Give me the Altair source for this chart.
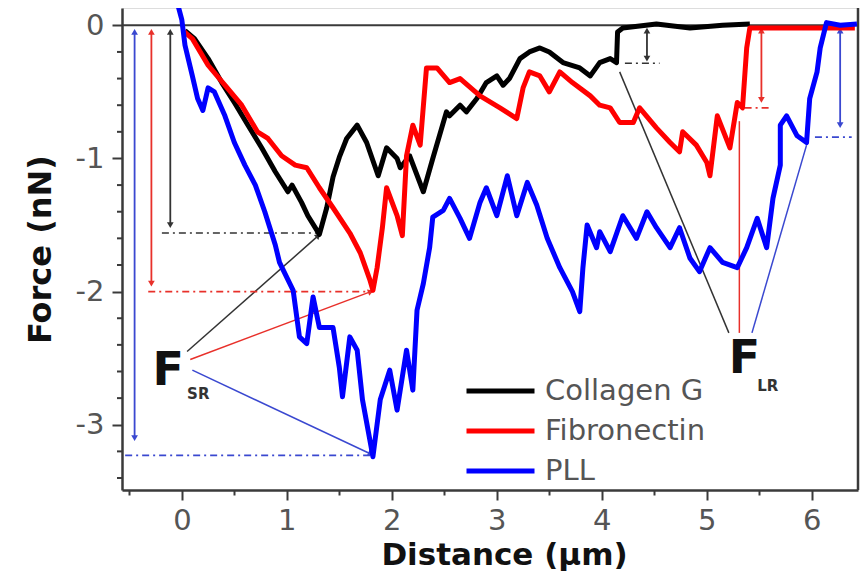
import math
import altair as alt
import pandas as pd

# ---------------- data ----------------
series_names = ["Collagen G", "Fibronectin", "PLL"]
series_colors = ["#000000", "#ff0000", "#0000ff"]

collagen_x = [0.03, 0.12, 0.25, 0.38, 0.50, 0.63, 0.76, 0.89, 1.01, 1.05, 1.14, 1.20, 1.31,
              1.38, 1.44, 1.50, 1.57, 1.67, 1.76, 1.87, 1.95, 2.05, 2.08, 2.17, 2.30, 2.39,
              2.52, 2.55, 2.65, 2.71, 2.81, 2.90, 3.00, 3.06, 3.12, 3.22, 3.31, 3.41, 3.50,
              3.63, 3.79, 3.89, 3.98, 4.08, 4.14, 4.15, 4.20, 4.52, 4.84, 5.15, 5.41]
collagen_y = [-0.04, -0.10, -0.25, -0.43, -0.58, -0.75, -0.92, -1.10, -1.25, -1.20, -1.33, -1.43, -1.57,
              -1.37, -1.14, -0.99, -0.85, -0.75, -0.88, -1.13, -0.92, -1.00, -1.07, -0.98, -1.25, -1.00,
              -0.65, -0.68, -0.60, -0.65, -0.55, -0.43, -0.38, -0.45, -0.40, -0.25, -0.20, -0.17, -0.20,
              -0.28, -0.32, -0.38, -0.28, -0.25, -0.28, -0.05, -0.02, 0.01, -0.02, 0.00, 0.01]

fibronectin_x = [0.01, 0.10, 0.25, 0.41, 0.57, 0.72, 0.82, 0.95, 1.08, 1.19, 1.31, 1.44, 1.60,
                 1.70, 1.79, 1.82, 1.86, 1.91, 1.95, 2.05, 2.10, 2.14, 2.20, 2.27, 2.33, 2.43,
                 2.55, 2.65, 2.84, 3.03, 3.19, 3.25, 3.31, 3.41, 3.50, 3.60, 3.72, 3.89, 3.98,
                 4.08, 4.17, 4.30, 4.36, 4.52, 4.65, 4.74, 4.77, 4.90, 5.00, 5.03, 5.10, 5.22,
                 5.29, 5.34, 5.38, 5.41, 5.79, 6.17, 6.41]
fibronectin_y = [-0.04, -0.10, -0.30, -0.45, -0.60, -0.80, -0.85, -0.98, -1.05, -1.07, -1.22, -1.37, -1.56,
                 -1.71, -1.91, -1.99, -1.82, -1.52, -1.22, -1.43, -1.58, -0.98, -0.75, -0.90, -0.32, -0.32,
                 -0.43, -0.40, -0.53, -0.62, -0.70, -0.47, -0.35, -0.38, -0.50, -0.35, -0.43, -0.53, -0.60,
                 -0.62, -0.73, -0.73, -0.62, -0.77, -0.88, -0.95, -0.80, -0.90, -1.03, -1.13, -0.68, -0.92,
                 -0.58, -0.62, -0.17, -0.02, -0.02, -0.02, -0.02]

pll_x = [-0.04, 0.00, 0.03, 0.10, 0.15, 0.20, 0.25, 0.31, 0.41, 0.50, 0.60, 0.70, 0.79, 0.89,
         0.93, 1.01, 1.06, 1.12, 1.19, 1.25, 1.31, 1.44, 1.50, 1.53, 1.60, 1.67, 1.72, 1.82,
         1.89, 1.98, 2.05, 2.14, 2.20, 2.24, 2.30, 2.36, 2.39, 2.49, 2.55, 2.65, 2.74, 2.84,
         2.90, 3.00, 3.10, 3.19, 3.29, 3.38, 3.48, 3.60, 3.72, 3.79, 3.82, 3.86, 3.95, 3.98,
         4.08, 4.20, 4.33, 4.43, 4.52, 4.65, 4.74, 4.84, 4.93, 5.03, 5.15, 5.29, 5.38, 5.48,
         5.57, 5.63, 5.70, 5.70, 5.76, 5.86, 5.95, 5.98, 6.05, 6.08, 6.14, 6.27, 6.43]
pll_y = [0.16, 0.04, -0.15, -0.38, -0.55, -0.64, -0.47, -0.50, -0.68, -0.88, -1.05, -1.20, -1.40, -1.65,
         -1.78, -1.91, -1.99, -2.34, -2.39, -2.04, -2.27, -2.27, -2.57, -2.79, -2.34, -2.44, -2.81, -3.24,
         -2.81, -2.59, -2.89, -2.44, -2.74, -2.14, -1.94, -1.67, -1.44, -1.39, -1.30, -1.45, -1.60, -1.33,
         -1.22, -1.43, -1.13, -1.43, -1.18, -1.35, -1.60, -1.82, -2.00, -2.15, -1.82, -1.50, -1.67, -1.55,
         -1.70, -1.43, -1.60, -1.40, -1.52, -1.67, -1.52, -1.75, -1.85, -1.67, -1.78, -1.82, -1.67, -1.45,
         -1.67, -1.30, -1.05, -0.75, -0.68, -0.83, -0.88, -0.55, -0.35, -0.17, 0.02, 0.00, 0.01]

# annotation values (black, red, blue)
ann_colors = ["#333333", "#e8302a", "#3a48d0"]
sr_arrow_x = [-0.11, -0.29, -0.45]
sr_arrow_top = [-0.05, -0.05, -0.05]
sr_arrow_bottom = [-1.50, -1.94, -3.10]
sr_level = [-1.56, -2.00, -3.23]
sr_level_x1 = [-0.19, -0.32, -0.54]
sr_level_x2 = [1.31, 1.82, 1.82]
sr_from_x = [0.05, 0.08, 0.10]
sr_from_y = [-2.45, -2.51, -2.59]
sr_to_x = [1.30, 1.80, 1.80]
sr_to_y = [-1.58, -2.00, -3.22]

lr_arrow_x = [4.43, 5.52, 6.27]
lr_arrow_top = [-0.04, -0.04, -0.04]
lr_arrow_bottom = [-0.25, -0.56, -0.75]
lr_level = [-0.285, -0.62, -0.84]
lr_level_x1 = [4.22, 5.36, 6.03]
lr_level_x2 = [4.55, 5.60, 6.38]
lr_from_x = [5.21, 5.31, 5.43]
lr_from_y = [-2.31, -2.31, -2.31]
lr_to_x = [4.17, 5.31, 5.95]
lr_to_y = [-0.35, -0.72, -0.90]

label_main = ["F", "F"]
label_sub = ["SR", "LR"]
label_x = [-0.28, 5.21]
label_y = [-2.70, -2.61]
sub_x = [0.05, 5.48]
sub_y = [-2.81, -2.75]

x_ticks = [round(-0.5 + 0.5 * i, 1) for i in range(14)]
y_major = [0, -1, -2, -3]
y_minor = [round(-0.2 * i, 1) for i in range(18) if i % 5 != 0]

X_MIN, X_MAX = -0.57, 6.44
Y_MIN, Y_MAX = -3.49, 0.13
W, H = 736, 482

# ---------------- build tables ----------------
rows = []
for name, xs, ys in [("Collagen G", collagen_x, collagen_y),
                     ("Fibronectin", fibronectin_x, fibronectin_y),
                     ("PLL", pll_x, pll_y)]:
    for i, (x, y) in enumerate(zip(xs, ys)):
        rows.append({"series": name, "x": x, "y": y, "i": i})
df = pd.DataFrame(rows)

xscale = alt.Scale(domain=[X_MIN, X_MAX], nice=False, zero=False)
yscale = alt.Scale(domain=[Y_MIN, Y_MAX], nice=False, zero=False)

FONT = "DejaVu Sans"
AX = "#3a3a3a"

x_axis = alt.Axis(
    values=x_ticks, title="Distance (µm)", grid=False,
    labelExpr="datum.value % 1 ? '' : '' + datum.value",
    tickSize={"condition": {"test": "datum.value % 1 != 0", "value": 5}, "value": 10},
    labelFont=FONT, labelFontSize=29, labelColor="#555555", labelPadding=6,
    titleFont=FONT, titleFontSize=31, titleFontWeight="bold", titleColor="#111111",
    titlePadding=5, titleX=382, domainColor=AX, domainWidth=2.5, tickColor=AX, tickWidth=2,
    labelFlush=False, labelOverlap=False,
)
y_axis = alt.Axis(
    values=y_major, title="Force (nN)", grid=False,
    labelExpr="(datum.value < -0.01 ? '-' : '') + abs(round(datum.value))",
    tickSize=10,
    labelFont=FONT, labelFontSize=29, labelColor="#555555", labelPadding=8,
    titleFont=FONT, titleFontSize=32, titleFontWeight="bold", titleColor="#111111",
    titlePadding=18, domainColor=AX, domainWidth=2.5, tickColor=AX, tickWidth=2,
    labelFlush=False, labelOverlap=False,
)

lines = alt.Chart(df).mark_line(strokeWidth=5, clip=True, strokeJoin="round").encode(
    x=alt.X("x:Q", scale=xscale, axis=x_axis),
    y=alt.Y("y:Q", scale=yscale, axis=y_axis),
    color=alt.Color("series:N",
                    scale=alt.Scale(domain=series_names, range=series_colors),
                    sort=series_names,
                    legend=alt.Legend(title=None, orient="none", legendX=342, legendY=368,
                                      symbolType="stroke", symbolSize=4624, symbolStrokeWidth=5,
                                      clipHeight=30, rowPadding=10, labelOffset=8, labelLimit=400,
                                      labelFont=FONT, labelFontSize=29, labelColor="#555555",
                                      padding=0)),
    order="i:Q",
)

zero_line = alt.Chart(pd.DataFrame({"y": [0.0]})).mark_rule(color=AX, strokeWidth=2).encode(
    y=alt.Y("y:Q", scale=yscale))
right_edge = alt.Chart(pd.DataFrame({"x": [X_MAX]})).mark_rule(color=AX, strokeWidth=2.5).encode(
    x=alt.X("x:Q", scale=xscale))
minor_y = alt.Chart(pd.DataFrame({"y": y_minor})).mark_rule(color=AX, strokeWidth=2).encode(
    y=alt.Y("y:Q", scale=yscale), x=alt.value(-5), x2=alt.value(0))

ann_layers = []
px_x = W / (X_MAX - X_MIN)
px_y = H / (Y_MAX - Y_MIN)
for k in range(3):
    c = ann_colors[k]
    va = pd.DataFrame({"x": [sr_arrow_x[k], lr_arrow_x[k]],
                       "y1": [sr_arrow_top[k], lr_arrow_top[k]],
                       "y2": [sr_arrow_bottom[k], lr_arrow_bottom[k]]})
    ann_layers.append(alt.Chart(va).mark_rule(color=c, strokeWidth=1.8).encode(
        x=alt.X("x:Q", scale=xscale), y=alt.Y("y1:Q", scale=yscale), y2="y2:Q"))
    ann_layers.append(alt.Chart(va).mark_point(shape="triangle-up", filled=True, color=c, size=45, opacity=1).encode(
        x=alt.X("x:Q", scale=xscale), y=alt.Y("y1:Q", scale=yscale)))
    ann_layers.append(alt.Chart(va).mark_point(shape="triangle-down", filled=True, color=c, size=45, opacity=1).encode(
        x=alt.X("x:Q", scale=xscale), y=alt.Y("y2:Q", scale=yscale)))
    lv = pd.DataFrame({"x1": [sr_level_x1[k], lr_level_x1[k]],
                       "x2": [sr_level_x2[k], lr_level_x2[k]],
                       "y": [sr_level[k], lr_level[k]]})
    ann_layers.append(alt.Chart(lv).mark_rule(color=c, strokeWidth=1.6, strokeDash=[7, 4, 2, 4]).encode(
        x=alt.X("x1:Q", scale=xscale), x2="x2:Q", y=alt.Y("y:Q", scale=yscale)))
    pl = pd.DataFrame({"x1": [sr_from_x[k], lr_from_x[k]], "y1": [sr_from_y[k], lr_from_y[k]],
                       "x2": [sr_to_x[k], lr_to_x[k]], "y2": [sr_to_y[k], lr_to_y[k]]})
    ann_layers.append(alt.Chart(pl).mark_rule(color=c, strokeWidth=1.5).encode(
        x=alt.X("x1:Q", scale=xscale), y=alt.Y("y1:Q", scale=yscale), x2="x2:Q", y2="y2:Q"))
    dxp = (sr_to_x[k] - sr_from_x[k]) * px_x
    dyp = -(sr_to_y[k] - sr_from_y[k]) * px_y
    ang = (math.degrees(math.atan2(dyp, dxp)) + 360) % 360
    ah = pd.DataFrame({"x": [sr_to_x[k]], "y": [sr_to_y[k]]})
    ann_layers.append(alt.Chart(ah).mark_point(shape="triangle-right", filled=True, color=c, size=45,
                                               opacity=1, angle=ang).encode(
        x=alt.X("x:Q", scale=xscale), y=alt.Y("y:Q", scale=yscale)))

lab = pd.DataFrame({"t": label_main, "x": label_x, "y": label_y})
sub = pd.DataFrame({"t": label_sub, "x": sub_x, "y": sub_y})
texts = [
    alt.Chart(lab).mark_text(font=FONT, fontSize=46, fontWeight="bold", color="#111111",
                             align="left", baseline="alphabetic").encode(
        x=alt.X("x:Q", scale=xscale), y=alt.Y("y:Q", scale=yscale), text="t:N"),
    alt.Chart(sub).mark_text(font=FONT, fontSize=15, fontWeight="bold", color="#333333",
                             align="left", baseline="alphabetic").encode(
        x=alt.X("x:Q", scale=xscale), y=alt.Y("y:Q", scale=yscale), text="t:N"),
]

chart = alt.layer(zero_line, right_edge, minor_y, *ann_layers, lines, *texts).properties(
    width=W, height=H,
    autosize=alt.AutoSizeParams(type="none"),
    padding={"left": 114, "top": 0, "right": 2, "bottom": 85},
).configure_view(stroke=None).configure(background="white")

chart.save("out.html", embed_options={"renderer": "svg", "actions": False})
